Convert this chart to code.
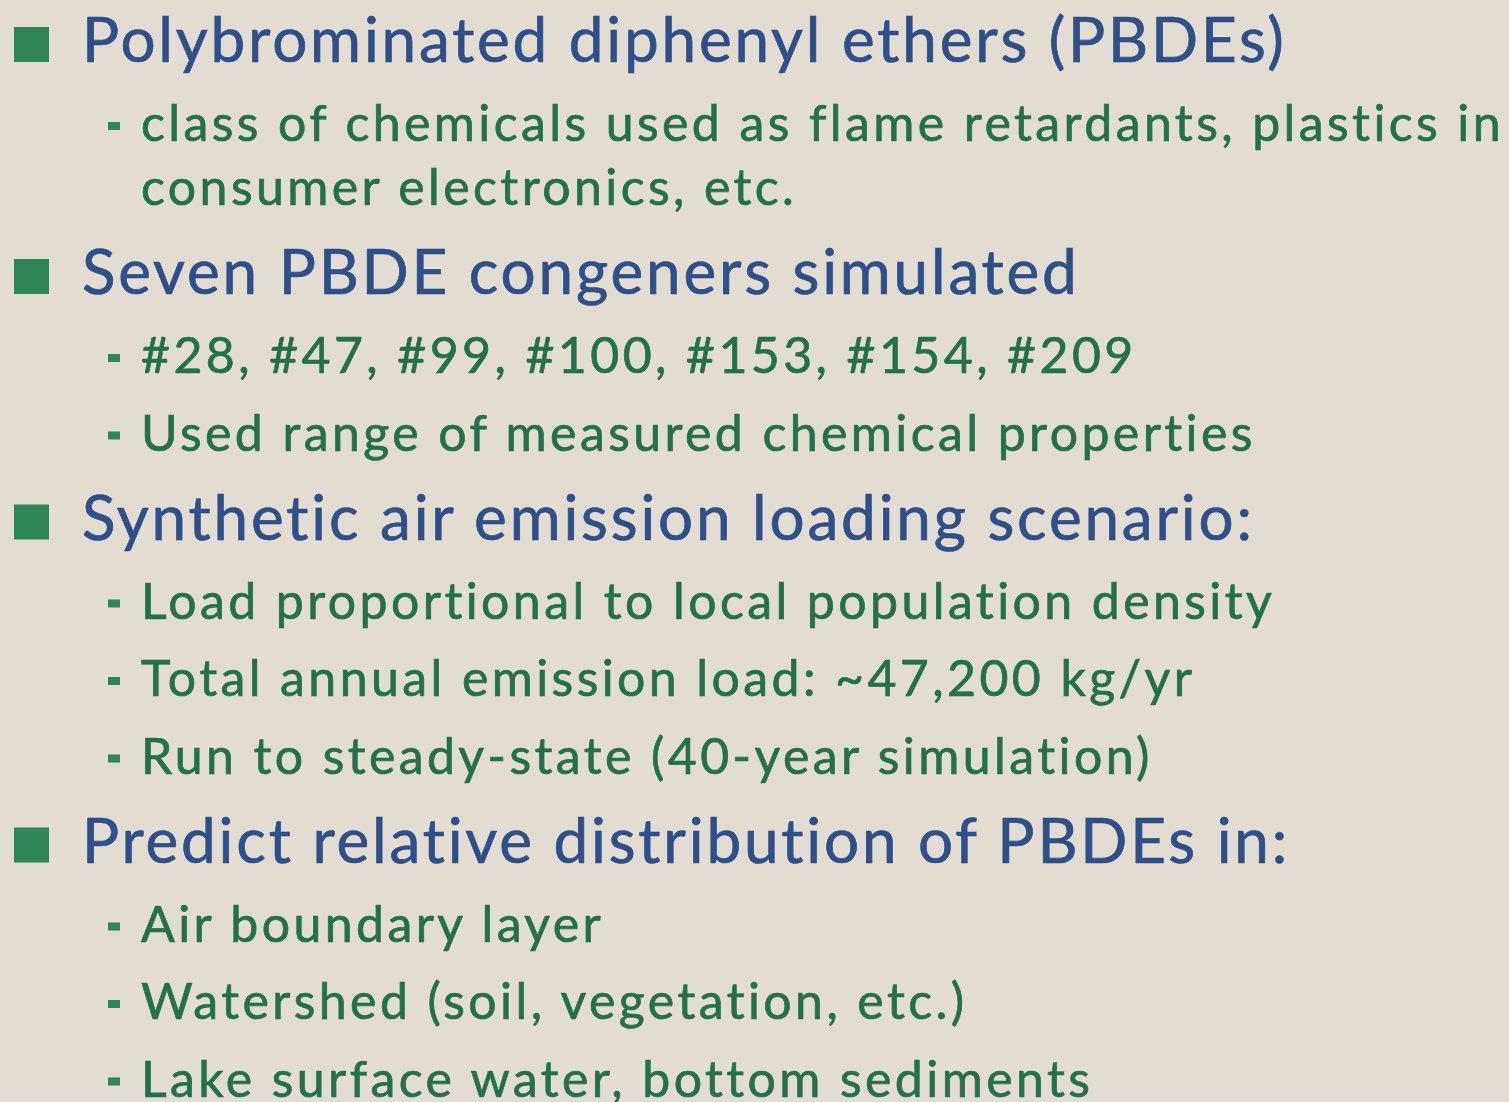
<!DOCTYPE html>
<html>
<head>
<meta charset="utf-8">
<script src="https://cdn.jsdelivr.net/npm/d3@7"></script>
<style>
  html, body { margin: 0; padding: 0; background: #e3dcd0; }
  svg { display: block; }
  text { font-variant-ligatures: none; font-feature-settings: "liga" 0, "clig" 0; }
</style>
</head>
<body>
<div id="slide"></div>
<script>
// bullet headings
const headings = [
  'Polybrominated diphenyl ethers (PBDEs)',
  'Seven PBDE congeners simulated',
  'Synthetic air emission loading scenario:',
  'Predict relative distribution of PBDEs in:'
]

// sub bullets for each heading (a sub bullet can wrap over several lines)
const subItems = [
  [['class of chemicals used as flame retardants, plastics in', 'consumer electronics, etc.']],
  [['#28, #47, #99, #100, #153, #154, #209'], ['Used range of measured chemical properties']],
  [['Load proportional to local population density'], ['Total annual emission load: ~47,200 kg/yr'], ['Run to steady-state (40-year simulation)']],
  [['Air boundary layer'], ['Watershed (soil, vegetation, etc.)'], ['Lake surface water, bottom sediments']]
]

const width = 1509
const height = 1102

const gap = {
  first: 62,
  headToSub: 79,
  subToSub: 77.5,
  wrap: 64,
  subToHead: 89
}

// flatten into lines with a running baseline
const lines = []
let y = gap.first
headings.forEach((h, i) => {
  if (i > 0) y += gap.subToHead
  lines.push({ level: 0, text: h, y: y, first: true })
  subItems[i].forEach((item, j) => {
    y += j === 0 ? gap.headToSub : gap.subToSub
    item.forEach((t, k) => {
      if (k > 0) y += gap.wrap
      lines.push({ level: 1, text: t, y: y, first: k === 0 })
    })
  })
})

const svg = d3
  .select('#slide')
  .append('svg')
  .attr('width', width)
  .attr('height', height)

svg
  .append('rect')
  .attr('width', width)
  .attr('height', height)
  .attr('fill', '#e3dcd0')

// bullet markers
svg
  .selectAll('.marker')
  .data(lines.filter(d => d.first))
  .enter()
  .append('rect')
  .attr('class', 'marker')
  .attr('x', d => (d.level === 0 ? 14 : 108))
  .attr('y', d => (d.level === 0 ? d.y - 35 : d.y - 19))
  .attr('width', d => (d.level === 0 ? 35 : 12))
  .attr('height', d => (d.level === 0 ? 35 : 8))
  .attr('fill', '#2c8658')

svg
  .selectAll('.line')
  .data(lines)
  .enter()
  .append('text')
  .attr('class', 'line')
  .attr('x', d => (d.level === 0 ? 82 : 141))
  .attr('y', d => d.y)
  .attr('font-family', 'Lato, "Open Sans", sans-serif')
  .attr('font-size', d => (d.level === 0 ? 62 : 50))
  .attr('letter-spacing', d => (d.level === 0 ? 2.8 : 3.4))
  .attr('fill', d => (d.level === 0 ? '#2f4f8a' : '#23714b'))
  .attr('stroke', d => (d.level === 0 ? '#2f4f8a' : '#23714b'))
  .attr('stroke-width', 0.7)
  .text(d => d.text)
</script>
</body>
</html>
